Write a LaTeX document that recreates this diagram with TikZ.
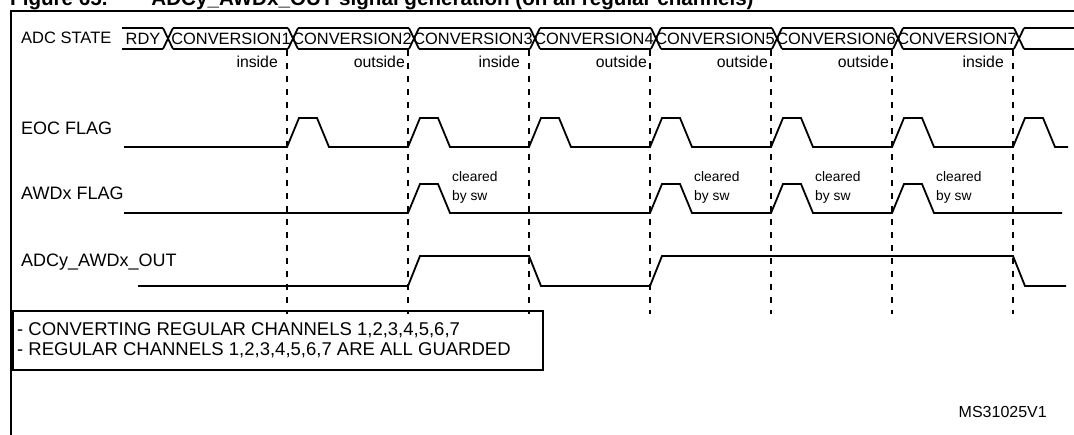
\documentclass[tikz,border=0pt]{standalone}
\usepackage{fontspec}
\setmainfont{Liberation Sans}
\usetikzlibrary{positioning}

\tikzset{
  sig/.style={line width=1.8pt},
  guide/.style={line width=1.8pt, dash pattern=on 6pt off 7pt},
  lbl/.style={font=\fontsize{18}{21}\selectfont, inner sep=0pt},
  busfont/.style={font=\fontsize{16.4}{18}\selectfont, inner sep=0pt},
  tag/.style={font=\fontsize{15.8}{17}\selectfont, inner sep=0pt},
  swnote/.style={font=\fontsize{13.8}{19}\selectfont, inner sep=0pt, align=left},
}

\begin{document}
\begin{tikzpicture}[x=1pt, y=-1pt]
    \useasboundingbox (0,0) rectangle (1074,434);
    % title, cut by the top of the page
    \node[anchor=base west, inner sep=0pt, font=\fontsize{20.6}{24}\selectfont\bfseries] (title) at (10,5)
        {Figure 65.\hspace{44pt}ADCy\_AWDx\_OUT signal generation (on all regular channels)};
    \draw[line width=2.4pt] (11,11) rectangle (1100,460);
    % row labels
    \node[lbl, anchor=west, font=\fontsize{16.5}{19}\selectfont] (adc) at (21,38) {ADC STATE};
    \node[lbl, anchor=west] (eoc) at (21,128) {EOC FLAG};
    \node[lbl, anchor=west] (awd) at (21,193) {AWDx FLAG};
    \node[lbl, anchor=west] (out) at (21,262) {ADCy\_AWDx\_OUT};
    % ADC state bus
    \foreach \a/\b in {122/163,173/288,298/409,419/530,540/651,661/772,782/893,903/1014,1024/1090} {
        \draw[sig] (\a,28) -- (\b,28);
        \draw[sig] (\a,49) -- (\b,49);
    }
    \foreach \c in {163,288,409,530,651,772,893,1014} {
        \draw[sig] (\c,28) -- (\c+10,49);
        \draw[sig] (\c,49) -- (\c+10,28);
    }
    \node[busfont] (rdy) at (143,38.5) {RDY};
    \foreach \k in {1,...,7}
        \node[busfont] (conv\k) at (231+121*\k-121,38.5) {CONVERSION\k};
    % window result of each conversion
    \foreach \i/\t/\g in {0/inside/9,1/outside/3,2/inside/9,3/outside/3,4/outside/3,5/outside/3,6/inside/9}
        \node[tag, anchor=east] (res\i) at (287+121*\i-\g,62) {\t};
    % guides
    \foreach \i in {0,...,6}
        \draw[guide] (287+121*\i,50) -- (287+121*\i,314);
    % EOC flag
    \draw[sig] (124,147) \foreach \i in {0,...,6} {
        -- (287+121*\i,147) -- ++(12,-29) -- ++(18,0) -- ++(12,29) } -- (1068,147);
    % AWDx flag
    \draw[sig] (124,213) \foreach \i in {1,3,4,5} {
        -- (287+121*\i,213) -- ++(12,-29) -- ++(18,0) -- ++(12,29) } -- (1062,213);
    \foreach \i in {1,3,4,5}
        \node[swnote, anchor=west] (clr\i) at (287+121*\i+44,187.5) {cleared\\by sw};
    % ADCy_AWDx_OUT
    \draw[sig] (138,286) -- (408,286) -- (420,256) -- (529,256) -- (541,286)
        -- (650,286) -- (662,256) -- (1013,256) -- (1025,286) -- (1066,286);
    % note
    \draw[line width=2pt] (13,311) rectangle (543,370);
    \node[lbl, anchor=west, align=left, font=\fontsize{18.5}{20}\selectfont] (note) at (17,340.5)
        {- CONVERTING REGULAR CHANNELS 1,2,3,4,5,6,7\\- REGULAR CHANNELS 1,2,3,4,5,6,7 ARE ALL GUARDED};
    \node[lbl, anchor=east, font=\fontsize{16}{19}\selectfont] (ms) at (1047,412) {MS31025V1};
\end{tikzpicture}
\end{document}
